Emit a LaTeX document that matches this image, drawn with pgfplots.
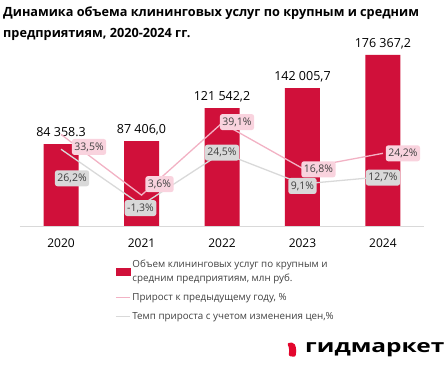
\documentclass[border=0pt]{standalone}
\usepackage{fontspec}
\setmainfont{Open Sans}
\usepackage{graphicx}
\usepackage{pgfplots}
\usepackage{pgfplotstable}
\pgfplotsset{compat=1.18}
\definecolor{barred}{HTML}{D0103A}
\definecolor{pinkline}{HTML}{F2B2C4}
\definecolor{pinkfill}{HTML}{F9D3DE}
\definecolor{grayline}{HTML}{D9D9D9}
\definecolor{grayfill}{HTML}{D9D9D9}
\definecolor{txt}{HTML}{404040}
\definecolor{logored}{HTML}{E3062D}

\pgfplotstableread{
x vol lab
0 84358.3 {84 358.3}
1 87406.0 {87 406,0}
2 121542.2 {121 542,2}
3 142005.7 {142 005,7}
4 176367.2 {176 367,2}
}\bars

\pgfplotstableread{
x p g dxp dyp dxg dyg plab glab
0 33.5 26.2 28 -12.5 11 -29 {33,5\%} {26,2\%}
1 3.6 -1.3 18 11 -1 -3 {3,6\%} {-1,3\%}
2 39.1 24.5 15 1 0 0 {39,1\%} {24,5\%}
3 16.8 9.1 16 -1 0 -2 {16,8\%} {9,1\%}
4 24.2 12.7 20 0 0 -1 {24,2\%} {12,7\%}
}\lines

\begin{document}
\begin{tikzpicture}
\path[use as bounding box] (0,0) rectangle (447pt,366pt);

\node[anchor=base west, inner sep=0pt, font=\bfseries\fontsize{12.7}{15}\selectfont] at (3pt,349pt) {Динамика объема клининговых услуг по крупным и средним};
\node[anchor=base west, inner sep=0pt, font=\bfseries\fontsize{12.7}{15}\selectfont] at (3pt,328pt) {предприятиям, 2020-2024 гг.};

\begin{axis}[
  at={(20pt,140pt)}, anchor=south west, scale only axis,
  width=404pt, height=176pt,
  xmin=-0.51, xmax=4.51, ymin=0, ymax=181400,
  axis y line=none, axis x line*=bottom,
  x axis line style={draw=grayline, line width=0.8pt, -},
  xtick={0,1,2,3,4}, xticklabels={2020,2021,2022,2023,2024},
  major tick length=0pt,
  xticklabel style={anchor=base, yshift=-22pt, font=\fontsize{12}{14}\selectfont, text=black},
  ybar, bar width=35pt, clip=false,
]
\addplot[fill=barred, draw=none, nodes near coords, point meta=explicit symbolic,
  every node near coord/.append style={anchor=base, yshift=7.5pt, inner sep=0pt,
    font=\fontsize{12.5}{14}\selectfont, text=black}]
  table[x=x, y=vol, meta=lab]{\bars};
\end{axis}

\begin{axis}[
  at={(20pt,140pt)}, anchor=south west, scale only axis,
  width=404pt, height=176pt,
  xmin=-0.51, xmax=4.51, ymin=-11.6, ymax=75.1,
  hide axis, clip=false,
  legend image code/.code={\draw[#1] (0pt,0pt) -- (14pt,0pt);},
  legend style={at={(0.235,-0.18)}, anchor=north west, draw=none, fill=none,
    font=\fontsize{9.8}{14.5}\selectfont, text=txt, row sep=6pt, inner sep=0pt,
    cells={anchor=west, align=left}},
  legend cell align=left,
]
\addlegendimage{legend image code/.code={\fill[barred] (0pt,-3.5pt) rectangle (14pt,3.5pt);}}
\addlegendentry{Объем клининговых услуг по крупным и\\средним предприятиям, млн руб.}

\addplot[pinkline, line width=1.3pt, nodes near coords, point meta=explicit symbolic,
  visualization depends on={\thisrow{dxp}\as\dx},
  visualization depends on={\thisrow{dyp}\as\dy},
  every node near coord/.append style={anchor=center, xshift=\dx, yshift=\dy,
    fill=pinkfill, rounded corners=2.5pt, font=\fontsize{10.5}{12}\selectfont,
    text=txt, inner xsep=2.5pt, inner ysep=0pt, minimum height=16pt}]
  table[x=x, y=p, meta=plab]{\lines};
\addlegendentry{Прирост к предыдущему году, \%}

\addplot[grayline, line width=1.3pt, nodes near coords, point meta=explicit symbolic,
  visualization depends on={\thisrow{dxg}\as\dx},
  visualization depends on={\thisrow{dyg}\as\dy},
  every node near coord/.append style={anchor=center, xshift=\dx, yshift=\dy,
    fill=grayfill, rounded corners=2.5pt, font=\fontsize{10.5}{12}\selectfont,
    text=txt, inner xsep=2.5pt, inner ysep=0pt, minimum height=16pt}]
  table[x=x, y=g, meta=glab]{\lines};
\addlegendentry{Темп прироста с учетом изменения цен,\%}
\end{axis}

\fill[logored, rounded corners=2pt] (287pt,23pt) -- (294pt,23.5pt) -- (296.5pt,17pt) -- (295.5pt,9pt) -- (288.5pt,10pt) -- (289.5pt,17pt) -- cycle;
\node[anchor=base west, inner sep=0pt] at (305pt,13pt) {\scalebox{1.36}[1]{\fontsize{18}{20}\selectfont\bfseries гидмаркет}};
\end{tikzpicture}
\end{document}
